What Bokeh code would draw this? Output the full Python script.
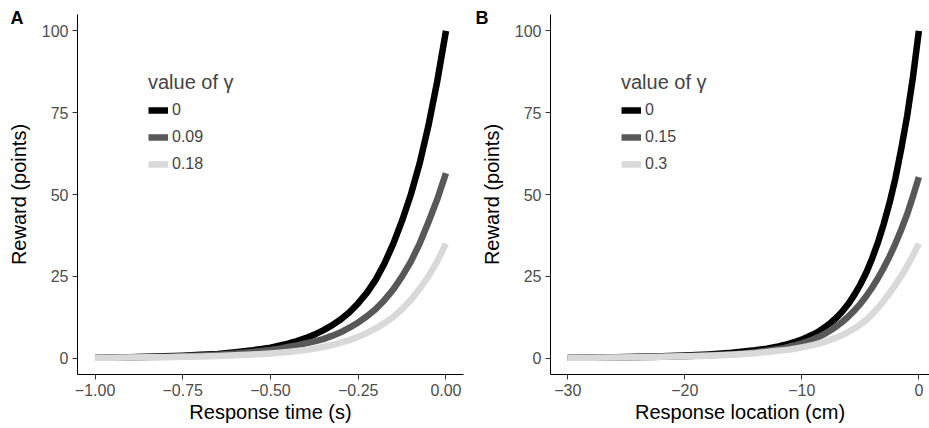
from bokeh.plotting import figure
from bokeh.layouts import row
from bokeh.models import Range1d, FixedTicker, Legend, LegendItem, Title
from bokeh.embed import file_html
from bokeh.resources import INLINE

# ---------------- data ----------------
gamma_labels_a = ["0", "0.09", "0.18"]
gamma_labels_b = ["0", "0.15", "0.3"]
series_colors = ["#000000", "#585858", "#d9d9d9"]

time_s = [-1.0, -0.95, -0.9, -0.85, -0.8, -0.75, -0.7, -0.65, -0.6, -0.55, -0.5,
          -0.475, -0.45, -0.425, -0.4, -0.375, -0.35, -0.325, -0.3, -0.275, -0.25,
          -0.225, -0.2, -0.175, -0.15, -0.125, -0.1, -0.075, -0.05, -0.025, 0.0]
reward_a_g0 = [0.15, 0.22, 0.3, 0.4, 0.55, 0.75, 1.0, 1.3, 1.8, 2.4, 3.2,
               3.8, 4.4, 5.2, 6.1, 7.2, 8.5, 10.0, 11.8, 14.0, 16.8,
               20.0, 24.0, 29.0, 35.0, 42.0, 50.0, 59.5, 71.0, 84.5, 100.0]
reward_a_g1 = [0.15, 0.2, 0.25, 0.35, 0.45, 0.6, 0.8, 1.05, 1.4, 1.9, 2.5,
               2.9, 3.4, 3.9, 4.5, 5.1, 5.8, 6.8, 7.9, 9.3, 10.9,
               12.8, 15.0, 17.8, 21.0, 25.0, 29.5, 35.0, 41.5, 48.5, 56.5]
reward_a_g2 = [0.12, 0.15, 0.2, 0.25, 0.3, 0.4, 0.5, 0.65, 0.85, 1.1, 1.45,
               1.65, 1.9, 2.2, 2.5, 2.9, 3.4, 4.0, 4.7, 5.5, 6.5,
               7.7, 9.1, 10.7, 12.6, 15.0, 17.8, 21.2, 25.0, 29.5, 35.0]

location_cm = [-30, -28, -26, -24, -22, -20, -18, -16, -15, -14, -13, -12, -11.5,
               -11, -10.5, -10, -9.5, -9, -8.5, -8, -7.5, -7, -6.5, -6, -5.5, -5,
               -4.5, -4, -3.5, -3, -2.5, -2, -1.5, -1, -0.5, 0]
reward_b_g0 = [0.15, 0.2, 0.28, 0.4, 0.55, 0.8, 1.15, 1.65, 2.0, 2.4, 2.9, 3.6, 4.0,
               4.5, 5.05, 5.7, 6.45, 7.3, 8.3, 9.5, 10.9, 12.5, 14.45, 16.7, 19.4, 22.5,
               26.1, 30.4, 35.3, 41.0, 47.5, 55.0, 64.0, 74.0, 86.0, 100.0]
reward_b_g1 = [0.13, 0.16, 0.22, 0.3, 0.42, 0.6, 0.85, 1.2, 1.45, 1.8, 2.25, 2.8, 3.15,
               3.55, 4.0, 4.5, 5.1, 5.8, 6.6, 7.5, 8.6, 9.8, 11.2, 12.8, 14.6, 16.6,
               18.9, 21.5, 24.4, 27.6, 31.1, 35.0, 39.3, 44.0, 49.5, 55.3]
reward_b_g2 = [0.12, 0.15, 0.2, 0.28, 0.4, 0.55, 0.75, 1.05, 1.25, 1.5, 1.85, 2.25, 2.45,
               2.65, 2.95, 3.3, 3.65, 4.05, 4.5, 5.05, 5.65, 6.35, 7.15, 8.05, 9.1, 10.3,
               11.7, 13.4, 15.3, 17.5, 19.9, 22.4, 25.1, 28.1, 31.4, 35.0]

y_ticks = [0, 25, 50, 75, 100]
x_ticks_a = [-1.0, -0.75, -0.5, -0.25, 0.0]
x_tick_labels_a = ["\u22121.00", "\u22120.75", "\u22120.50", "\u22120.25", "0.00"]
x_ticks_b = [-30, -20, -10, 0]
x_tick_labels_b = ["\u221230", "\u221220", "\u221210", "0"]

FONT = "Liberation Sans"


def make_panel(letter, xs, ys_list, labels, x_range, x_ticks, x_tick_labels,
               xlabel, border_left, border_right, frame_w, legend_x):
    p = figure(frame_width=frame_w, frame_height=360,
               x_range=Range1d(*x_range), y_range=Range1d(-5, 105),
               output_backend="svg", toolbar_location=None,
               min_border_left=border_left, min_border_right=border_right,
               min_border_top=14, min_border_bottom=0)
    p.grid.visible = False
    p.outline_line_color = None
    p.background_fill_color = "white"

    renderers = []
    for ys, col in zip(ys_list, series_colors):
        r = p.line(xs, ys, line_color=col, line_width=6.5, line_cap="butt",
                   line_join="round")
        renderers.append(r)

    for ax in (p.xaxis[0], p.yaxis[0]):
        ax.axis_line_color = "black"
        ax.axis_line_width = 1
        ax.major_tick_line_color = "#333333"
        ax.major_tick_in = 0
        ax.major_tick_out = 5
        ax.minor_tick_line_color = None
        ax.major_label_text_color = "#4d4d4d"
        ax.major_label_text_font = FONT
        ax.major_label_text_font_size = "16px"
        ax.axis_label_text_font = FONT
        ax.axis_label_text_font_size = "20px"
        ax.axis_label_text_font_style = "normal"
        ax.axis_label_text_color = "black"
        ax.major_label_standoff = 4

    p.yaxis.ticker = FixedTicker(ticks=y_ticks)
    p.xaxis.ticker = FixedTicker(ticks=x_ticks)
    p.xaxis.major_label_overrides = {t: l for t, l in zip(x_ticks, x_tick_labels)}
    p.yaxis.axis_label = "Reward (points)"
    p.xaxis.axis_label = xlabel
    p.yaxis.axis_label_standoff = 9
    p.xaxis.axis_label_standoff = 2

    legend = Legend(items=[LegendItem(label=l, renderers=[r])
                           for l, r in zip(labels, renderers)],
                    location=(legend_x, 200), title="value of \u03b3",
                    title_text_font=FONT, title_text_font_size="20px",
                    title_text_font_style="normal", title_standoff=6,
                    label_text_font=FONT, label_text_font_size="16px",
                    glyph_width=20, glyph_height=20, spacing=7,
                    label_standoff=4, padding=0, margin=0,
                    background_fill_alpha=0, border_line_color=None)
    p.add_layout(legend, "center")

    # panel letter, placed in the panel above the frame (not clipped)
    t = Title(text=letter, align="left", offset=10 - border_left, standoff=-27,
              vertical_align="bottom", text_font=FONT, text_font_style="bold",
              text_font_size="18px", text_color="black")
    p.add_layout(t, "above")
    return p


pa = make_panel("A", time_s, [reward_a_g0, reward_a_g1, reward_a_g2], gamma_labels_a,
                (-1.05, 0.05), x_ticks_a, x_tick_labels_a, "Response time (s)",
                77, 2, 386, 71)
pb = make_panel("B", location_cm, [reward_b_g0, reward_b_g1, reward_b_g2], gamma_labels_b,
                (-31.48, 0.91), x_ticks_b, x_tick_labels_b, "Response location (cm)",
                85, 0, 379, 71)

layout = row(pa, pb)
open("out.html", "w").write(file_html(layout, INLINE))
